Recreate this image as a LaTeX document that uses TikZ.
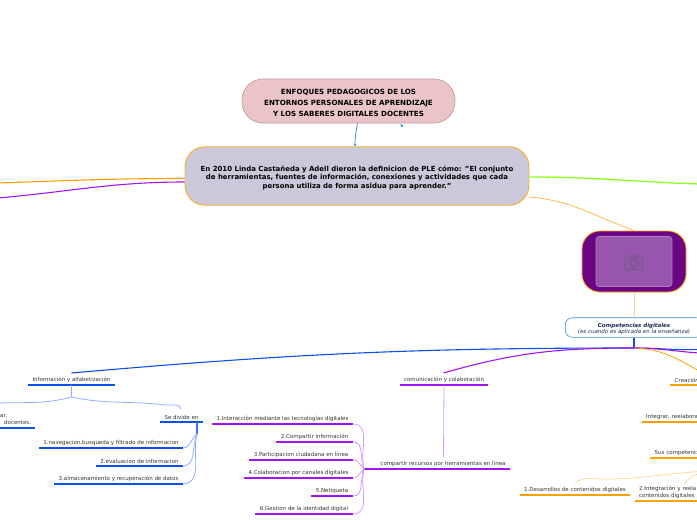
\documentclass[tikz,border=0pt]{standalone}
\usepackage{fontspec}
\setmainfont{DejaVu Sans}
\usepackage{xcolor}
\usepackage{tikz}
\usetikzlibrary{calc,positioning,arrows.meta}
\definecolor{mapRose}{HTML}{EAC4C6}
\definecolor{mapRoseEdge}{HTML}{C29A9C}
\definecolor{mapSlate}{HTML}{CBC9D9}
\definecolor{mapOrange}{HTML}{FFA000}
\definecolor{mapOrangeSoft}{HTML}{FFD596}
\definecolor{mapBlue}{HTML}{0B50E8}
\definecolor{mapBlueSoft}{HTML}{92AEFA}
\definecolor{mapPurple}{HTML}{A414F2}
\definecolor{mapPurpleSoft}{HTML}{D49CFC}
\definecolor{mapGreen}{HTML}{8CFF1E}
\definecolor{mapLink}{HTML}{2A84D8}
\definecolor{mapPlum}{HTML}{6A0585}
\definecolor{mapPhoto}{HTML}{9755AD}
\definecolor{mapCam}{HTML}{6E5C7E}
\definecolor{mapNavy}{HTML}{1C2C58}

\begin{document}
\begin{tikzpicture}[
  x=1pt, y=-1pt,
  title/.style={rounded corners=21pt, draw=mapRoseEdge, fill=mapRose, line width=0.7pt, align=center,
              minimum width=213pt, minimum height=44pt, inner sep=0pt, font=\fontsize{7.1}{11}\selectfont\bfseries},
  defn/.style={rounded corners=20pt, draw=mapOrange!85, fill=mapSlate, line width=0.9pt, align=center,
              minimum width=344pt, minimum height=58.5pt, inner sep=0pt, font=\fontsize{6.95}{8.5}\selectfont\bfseries},
  pic/.style={rounded corners=18pt, draw=mapOrange, fill=mapPlum, line width=0.8pt,
              minimum width=104pt, minimum height=61pt, inner sep=0pt},
  photo/.style={rounded corners=3pt, draw=mapPhoto!75!white, fill=mapPhoto, line width=0.6pt,
              minimum width=76pt, minimum height=50pt, inner sep=0pt},
  comp/.style={rounded corners=7pt, draw=mapLink!90, fill=white, line width=0.6pt, align=center,
              minimum width=137.4pt, minimum height=19.6pt, inner sep=0pt, text=mapNavy,
              font=\fontsize{5.5}{6.2}\selectfont\itshape},
  lab/.style={anchor=south, inner xsep=0pt, inner ysep=2.2pt, align=center, text=black!80,
              font=\fontsize{5.5}{7.3}\selectfont},
  cut/.style={lab, anchor=south west, align=left, text width=80pt, inner xsep=4.5pt},
  link/.style={-{Latex[length=2pt,width=3pt]}, draw=mapLink, line width=0.7pt},
  ub/.style={draw=mapBlue, line width=1.5pt},
  up/.style={draw=mapPurple, line width=1.5pt},
  uo/.style={draw=mapOrange, line width=1.5pt},
  sb/.style={draw=mapBlueSoft, line width=0.8pt},
  sp/.style={draw=mapPurpleSoft, line width=0.8pt},
  so/.style={draw=mapOrangeSoft, line width=0.7pt}
]
\useasboundingbox (0,0) rectangle (697,520);
\clip (0,0) rectangle (697,520);

% top of the map
\node[title] (tema) at (348.5,101) {\rule{0pt}{9pt}ENFOQUES PEDAGOGICOS DE LOS\\ENTORNOS PERSONALES DE APRENDIZAJE\\Y LOS SABERES DIGITALES DOCENTES};
\node[defn] (ple) at (357,176) {\rule{0pt}{9pt}En 2010 Linda Castañeda y Adell dieron la definicion de PLE cómo: "El conjunto\\de herramientas, fuentes de información, conexiones y actividades que cada\\persona utiliza de forma asidua para aprender."};
\node[pic] (foto) at (634,261.5) {};
\node[photo] (marco) at (634,261.5) {};
\node[comp] (comp) at (634,327.5) {\rule{0pt}{7.5pt}\textbf{Competencias digitales}\\(es cuando es aplicada en la enseñanza)};

% camera
\draw[mapCam, line width=0.8pt, rounded corners=1pt] (625,269.5) rectangle (642.5,257);
\draw[mapCam, line width=0.8pt] (629,257) -- (630,255) -- (638,255) -- (639,257);
\draw[mapCam, line width=0.7pt] (633.8,263) circle (5pt) (633.8,263) circle (3pt);

% free ends outside the page
\coordinate (offO) at (-2,183);
\coordinate (offP) at (-2,198);
\coordinate (offG) at (699,184);
\coordinate (offB) at (699,349.5);
\coordinate (offV) at (699,353);
\coordinate (offC) at (699,371);
\coordinate (offD) at (699,471.5);
\coordinate (offE) at (699,474);
\coordinate (offL) at (-2,403);
\coordinate (raiz) at (634,348);

\draw[link] (tema.south -| 357.5,0) to[out=260,in=90] (ple.north -| 355,0);
\coordinate (tic) at (401,124);
\draw[link] (tic) -- (402.5,127.2);

\draw[mapOrange, line width=1.1pt] (ple.west |- 0,178.5) to[out=180,in=2] (offO);
\draw[mapPurple, line width=1.1pt] (ple.west |- 0,182) to[out=180,in=5] (offP);
\draw[mapGreen, line width=1.3pt] (ple.east |- 0,177) to[out=0,in=178] (offG);
\draw[mapOrange!80, line width=0.7pt] (ple.east |- 0,197) to[out=-5,in=160] (foto.north);
\draw[so, line width=0.8pt] (foto.south) -- (comp.north);
\draw[draw=mapBlue!85!mapPurple, line width=1.2pt] (comp.south) -- (raiz);

% ramas desde competencias
\node[lab, minimum width=87pt] (info) at (71.5,385) {Información y alfabetización};
\node[lab, minimum width=88pt] (comu) at (444,385) {comunicación y colaboración};
\node[cut, font=\fontsize{5.5}{7.3}\selectfont\itshape] (crea) at (670,385) {Creación};
\draw[ub, line width=1.1pt] (raiz) to[out=180,in=5] (71.5,373) coordinate (infot);
\draw[up, line width=1.1pt] (raiz) to[out=180,in=16] (443.5,373) coordinate (comut);
\draw[ub, line width=1.1pt] (raiz) to[out=0,in=182] (offB);
\draw[up, line width=1.1pt] (raiz) to[out=0,in=176] (offV);
\draw[uo, line width=0.8pt] (raiz) to[out=-2,in=150] (offC);

% informacion
\coordinate (infoj) at (71.5,397);
\coordinate (sej) at (197,434);
\node[lab, minimum width=43pt] (sedi) at (181.5,422) {Se divide en};
\node[cut, inner xsep=0pt, inner ysep=3pt] (resto) at (0,428) {ar,\\\hspace*{4pt}docentes.};
\coordinate (restoe) at (35,428);
\node[lab, minimum width=144pt] (i1) at (111,448) {1.navegacion,busqueda y filtrado de informacion};
\node[lab, minimum width=87pt] (i2) at (139.5,466) {2.evaluacion de informacion};
\node[lab, minimum width=129pt] (i3) at (118.5,484) {3.almacenamiento y recuperación de datos};
\draw[ub] (resto.south west) -- (restoe);
\foreach \n in {info,sedi,i1,i2,i3}
  \draw[ub] (\n.south west) -- (\n.south east);
\draw[sb, line width=0.9pt] (info.south) -- (infoj);
\draw[sb] (infoj) to[out=195,in=2] (offL);
\draw[sb] (infoj) to[out=-12,in=173] (165,405) to[out=-7,in=100] (181,409) coordinate (sedit);
\draw[draw=mapBlue!80, line width=1.1pt] (sedi.south -| sej) -- (sej);
\foreach \n/\a in {i1/215,i2/245,i3/255}
  \draw[sb] (sej) to[out=\a,in=5] (\n.south east);

% comunicacion
\coordinate (compj) at (364,469);
\node[lab, minimum width=134pt] (rec) at (443,469) {compartir recursos por herramientas en línea};
\node[lab, minimum width=141pt] (c1) at (282.5,424) {1.Interacción mediante las tecnologías digitales};
\node[lab, minimum width=77pt] (c2) at (314.5,442) {2.Compartir información};
\node[lab, minimum width=104pt] (c3) at (301,460) {3.Participacion ciudadana en línea};
\node[lab, minimum width=109pt] (c4) at (298.5,478) {4.Colaboracion por canales digitales};
\node[lab, minimum width=42pt] (c5) at (332,496) {5.Netiqueta};
\node[lab, minimum width=98pt] (c6) at (304,514) {6.Gestion de la identidad digital};
\foreach \n in {comu,rec,c1,c2,c3,c4,c5,c6}
  \draw[up] (\n.south west) -- (\n.south east);
\draw[up] (compj) -- (rec.south west);
\draw[sp, line width=0.8pt] (comu.south) -- (443.5,457) coordinate (recn);
\foreach \n/\a in {c1/105,c2/115,c3/140,c4/215,c5/245,c6/255}
  \draw[sp] (compj) to[out=\a,in=0] (\n.south east);

% creacion
\node[cut] (ree) at (641.5,422) {Integrar, reelabora};
\node[cut] (sus) at (650,458) {Sus competencia};
\node[lab, minimum width=110pt] (d1) at (575,495) {1.Desarrollos de contenidos digitales};
\node[cut] (d2) at (634.5,501) {2.Integración y reela\\contenidos digitales};
\foreach \n in {crea,ree,sus,d1,d2}
  \draw[uo] (\n.south west) -- (\n.south east);
\draw[so] (offD) to[out=184,in=-3] (590,478.5) to[out=177,in=20] (575,482) coordinate (d1t);
\draw[so] (offE) to[out=180,in=40] (684.5,483) coordinate (d2t);
\end{tikzpicture}
\end{document}
